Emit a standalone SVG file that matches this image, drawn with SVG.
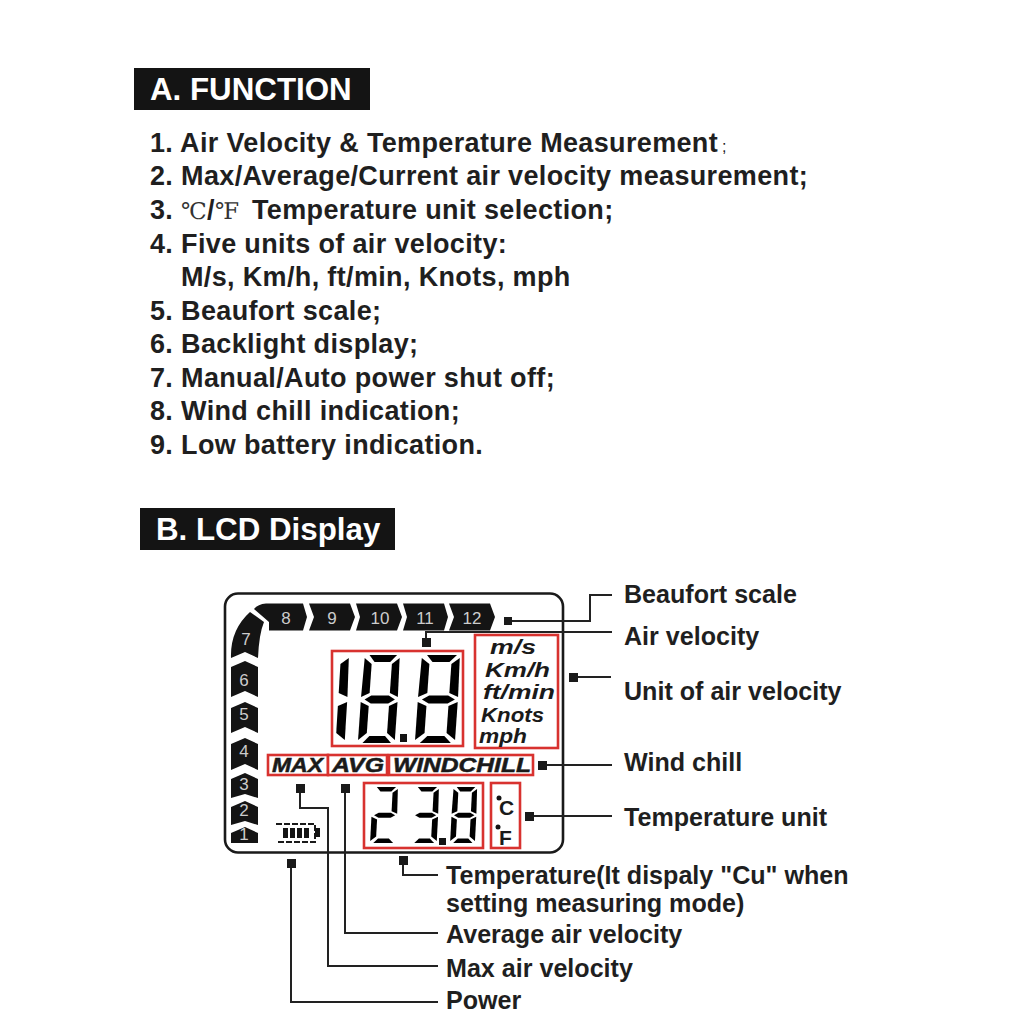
<svg xmlns="http://www.w3.org/2000/svg" width="1024" height="1024" viewBox="0 0 1024 1024">
<style>
text{font-family:"Liberation Sans",Arial,sans-serif;font-weight:700;fill:#1f1f1f}
.h{fill:#fff;font-size:31.300px}
.l{font-size:27px;letter-spacing:.35px}
.c{font-size:25.100px}
.k{fill:#141414}
.r{fill:#fff;stroke:#d8322f;stroke-width:2.600}
.nl{fill:#ccc;font-size:17px;font-weight:400;text-anchor:middle}
.u{font-size:21px;font-style:italic;fill:#1a1a1a}
.t{font-size:20px;font-style:italic;fill:#1a1a1a;stroke:#1a1a1a;stroke-width:.5}
.ln{fill:none;stroke:#222;stroke-width:2}
.s{fill:#1a1a1a}
.sym{font-family:"DejaVu Serif","Liberation Serif",serif;font-weight:400;font-size:23px;fill:#333}
</style>
<defs>
<polygon id="a" points="6,0 36,0 29,7 12,7"/>
<polygon id="b" points="39,3 40,42 31,38 31,9"/>
<polygon id="c" points="40,47 40,85 31,78 31,51"/>
<polygon id="d" points="12,81 29,81 36,88 5,88"/>
<polygon id="e" points="0,47 9,51 9,78 0,85"/>
<polygon id="f" points="1,3 9,9 9,38 0,42"/>
<polygon id="g" points="4,44.500 11,40.500 30,40.500 37,44.500 30,48.500 11,48.500"/>
<g id="d8"><use href="#a"/><use href="#b"/><use href="#c"/><use href="#d"/><use href="#e"/><use href="#f"/><use href="#g"/></g>
<g id="d2"><use href="#a"/><use href="#b"/><use href="#g"/><use href="#e"/><use href="#d"/></g>
<g id="d3"><use href="#a"/><use href="#b"/><use href="#g"/><use href="#c"/><use href="#d"/></g>
<g id="d1"><use href="#b"/><use href="#c"/></g>
</defs>
<rect width="1024" height="1024" fill="#fff"/>

<g id="section-a">
<rect x="134" y="68" width="236" height="42" class="k"/>
<text x="150" y="100" class="h">A. FUNCTION</text>
<text x="150" y="151.500" class="l">1. Air Velocity &amp; Temperature Measurement</text>
<text x="722" y="152" style="font-size:16px;font-weight:400">;</text>
<text x="150" y="185" class="l">2. Max/Average/Current air velocity measurement;</text>
<text x="150" y="218.500" class="l">3.</text>
<text x="181" y="219" class="sym">℃</text>
<text x="207" y="218.500" class="l">/</text>
<text x="215" y="219" class="sym">℉</text>
<text x="252" y="218.500" class="l">Temperature unit selection;</text>
<text x="150" y="252.500" class="l">4. Five units of air velocity:</text>
<text x="181" y="286" class="l">M/s, Km/h, ft/min, Knots, mph</text>
<text x="150" y="319.500" class="l">5. Beaufort scale;</text>
<text x="150" y="353" class="l">6. Backlight display;</text>
<text x="150" y="386.500" class="l">7. Manual/Auto power shut off;</text>
<text x="150" y="420" class="l">8. Wind chill indication;</text>
<text x="150" y="453.500" class="l">9. Low battery indication.</text>
</g>

<g id="section-b">
<rect x="140" y="508" width="255" height="42" class="k"/>
<text x="156" y="540" class="h">B. LCD Display</text>
</g>

<g id="lcd">
<rect x="225" y="593.500" width="338" height="259" rx="13" fill="#fff" stroke="#1a1a1a" stroke-width="2.600"/>
</g>

<g id="beaufort-scale">
<path class="k" d="M254,609 Q258,604 266,603.500 H303 L307,617 L303,630.500 H269 V622 Z"/>
<path class="k" d="M309,603.500 H350 L355,617 L350,630.500 H309 L314,617 Z"/>
<path class="k" d="M356,603.500 H397 L402,617 L397,630.500 H356 L360,617 Z"/>
<path class="k" d="M403,603.500 H444 L448,617 L444,630.500 H403 L407,617 Z"/>
<path class="k" d="M449,603.500 H490 L495,617 L490,630.500 H449 L454,617 Z"/>
<path class="k" d="M250,612 L264,622 Q259,634 258,658 L245,652 L231,658 Q230,630 250,612 Z"/>
<path class="k" d="M231,667 L245,661 L258,667 V697 L245,691 L231,697 Z"/>
<path class="k" d="M231,708 L245,702 L258,708 V733 L245,727 L231,733 Z"/>
<path class="k" d="M231,744 L245,738 L258,744 V770 L245,764 L231,770 Z"/>
<path class="k" d="M231,779 L245,773 L258,779 V798 L245,794 L231,798 Z"/>
<path class="k" d="M231,807 L245,801 L258,807 V825 L245,821 L231,825 Z"/>
<path class="k" d="M231,833 L245,827 L258,833 V843 H231 Z"/>
<text x="286" y="624" class="nl">8</text>
<text x="332" y="624" class="nl">9</text>
<text x="380" y="624" class="nl">10</text>
<text x="425" y="624" class="nl">11</text>
<text x="472" y="624" class="nl">12</text>
<text x="246" y="645" class="nl">7</text>
<text x="244" y="686" class="nl">6</text>
<text x="244" y="720" class="nl">5</text>
<text x="244" y="757" class="nl">4</text>
<text x="244" y="790" class="nl">3</text>
<text x="244" y="816" class="nl">2</text>
<text x="244" y="840" class="nl">1</text>
</g>

<g id="air-velocity-display">
<rect x="332" y="651" width="131" height="95" class="r"/>
<use href="#d1" transform="translate(310,655) skewX(-3.500)"/>
<use href="#d8" transform="translate(364,655) skewX(-4) scale(.92,1)"/>
<rect x="400" y="734" width="7" height="8" class="k"/>
<use href="#d8" transform="translate(421,655) skewX(-4)"/>
</g>

<g id="units-box">
<rect x="475" y="635" width="83" height="113" class="r"/>
<text x="490" y="654" class="u" textLength="46" lengthAdjust="spacingAndGlyphs">m/s</text>
<text x="485" y="677" class="u" textLength="65" lengthAdjust="spacingAndGlyphs">Km/h</text>
<text x="483" y="699" class="u" textLength="72" lengthAdjust="spacingAndGlyphs">ft/min</text>
<text x="481" y="722" class="u" textLength="63" lengthAdjust="spacingAndGlyphs">Knots</text>
<text x="479" y="743" class="u" textLength="48" lengthAdjust="spacingAndGlyphs">mph</text>
</g>

<g id="mode-labels">
<rect x="268" y="755" width="60" height="20" class="r"/>
<rect x="328" y="755" width="59" height="20" class="r"/>
<rect x="389" y="755" width="144" height="20" class="r"/>
<text x="272" y="772" class="t" textLength="51" lengthAdjust="spacingAndGlyphs">MAX</text>
<text x="332" y="772" class="t" textLength="52" lengthAdjust="spacingAndGlyphs">AVG</text>
<text x="393" y="772" class="t" textLength="138" lengthAdjust="spacingAndGlyphs">WINDCHILL</text>
</g>

<g id="temperature-display">
<rect x="364" y="783" width="119" height="65" class="r"/>
<use href="#d2" transform="translate(373,787) skewX(-3) scale(.64,.635)"/>
<use href="#d3" transform="translate(414,787) skewX(-3) scale(.64,.635)"/>
<rect x="439" y="838" width="7" height="7" class="k"/>
<use href="#d8" transform="translate(453,787) skewX(-3) scale(.62,.635)"/>
</g>

<g id="temperature-unit">
<rect x="491" y="783" width="29" height="65" class="r"/>
<circle cx="499" cy="798" r="2.500" class="k"/>
<circle cx="498" cy="827" r="2.500" class="k"/>
<text x="499" y="815" style="font-size:21px;fill:#1a1a1a">C</text>
<text x="499" y="845" style="font-size:21px;fill:#1a1a1a">F</text>
</g>

<g id="battery">
<path d="M276,824 H315 V842 H276" fill="none" stroke="#1a1a1a" stroke-width="2" stroke-dasharray="6 2"/>
<rect x="315" y="828" width="5" height="9" class="k"/>
<rect x="283" y="828" width="5" height="10" class="k"/>
<rect x="290" y="828" width="5" height="10" class="k"/>
<rect x="297" y="828" width="5" height="10" class="k"/>
<rect x="304" y="828" width="5" height="10" class="k"/>
</g>

<g id="connectors">
<path class="ln" d="M508,621 H590 V595 H612"/>
<path class="ln" d="M426,642 V632 H612"/>
<path class="ln" d="M573,677 H611"/>
<path class="ln" d="M543,765 H612"/>
<path class="ln" d="M529,816 H612"/>
<path class="ln" d="M403,860 V875 H438"/>
<path class="ln" d="M345,788 V933 H438"/>
<path class="ln" d="M300,788 V808 H328 V966 H438"/>
<path class="ln" d="M291,863 V1002 H438"/>
<rect x="504" y="617" width="8" height="8" class="s"/>
<rect x="422" y="638" width="9" height="9" class="s"/>
<rect x="569" y="673" width="9" height="9" class="s"/>
<rect x="538" y="761" width="9" height="9" class="s"/>
<rect x="525" y="812" width="9" height="9" class="s"/>
<rect x="399" y="856" width="9" height="9" class="s"/>
<rect x="341" y="784" width="9" height="9" class="s"/>
<rect x="296" y="784" width="9" height="9" class="s"/>
<rect x="287" y="859" width="9" height="9" class="s"/>
</g>

<g id="callouts">
<text x="624" y="603" class="c">Beaufort scale</text>
<text x="624" y="645" class="c">Air velocity</text>
<text x="624" y="700" class="c">Unit of air velocity</text>
<text x="624" y="771" class="c">Wind chill</text>
<text x="624" y="826" class="c">Temperature unit</text>
<text x="446" y="884" class="c">Temperature(It dispaly "Cu" when</text>
<text x="446" y="912" class="c">setting measuring mode)</text>
<text x="446" y="943" class="c">Average air velocity</text>
<text x="446" y="977" class="c">Max air velocity</text>
<text x="446" y="1009" class="c">Power</text>
</g>
</svg>
